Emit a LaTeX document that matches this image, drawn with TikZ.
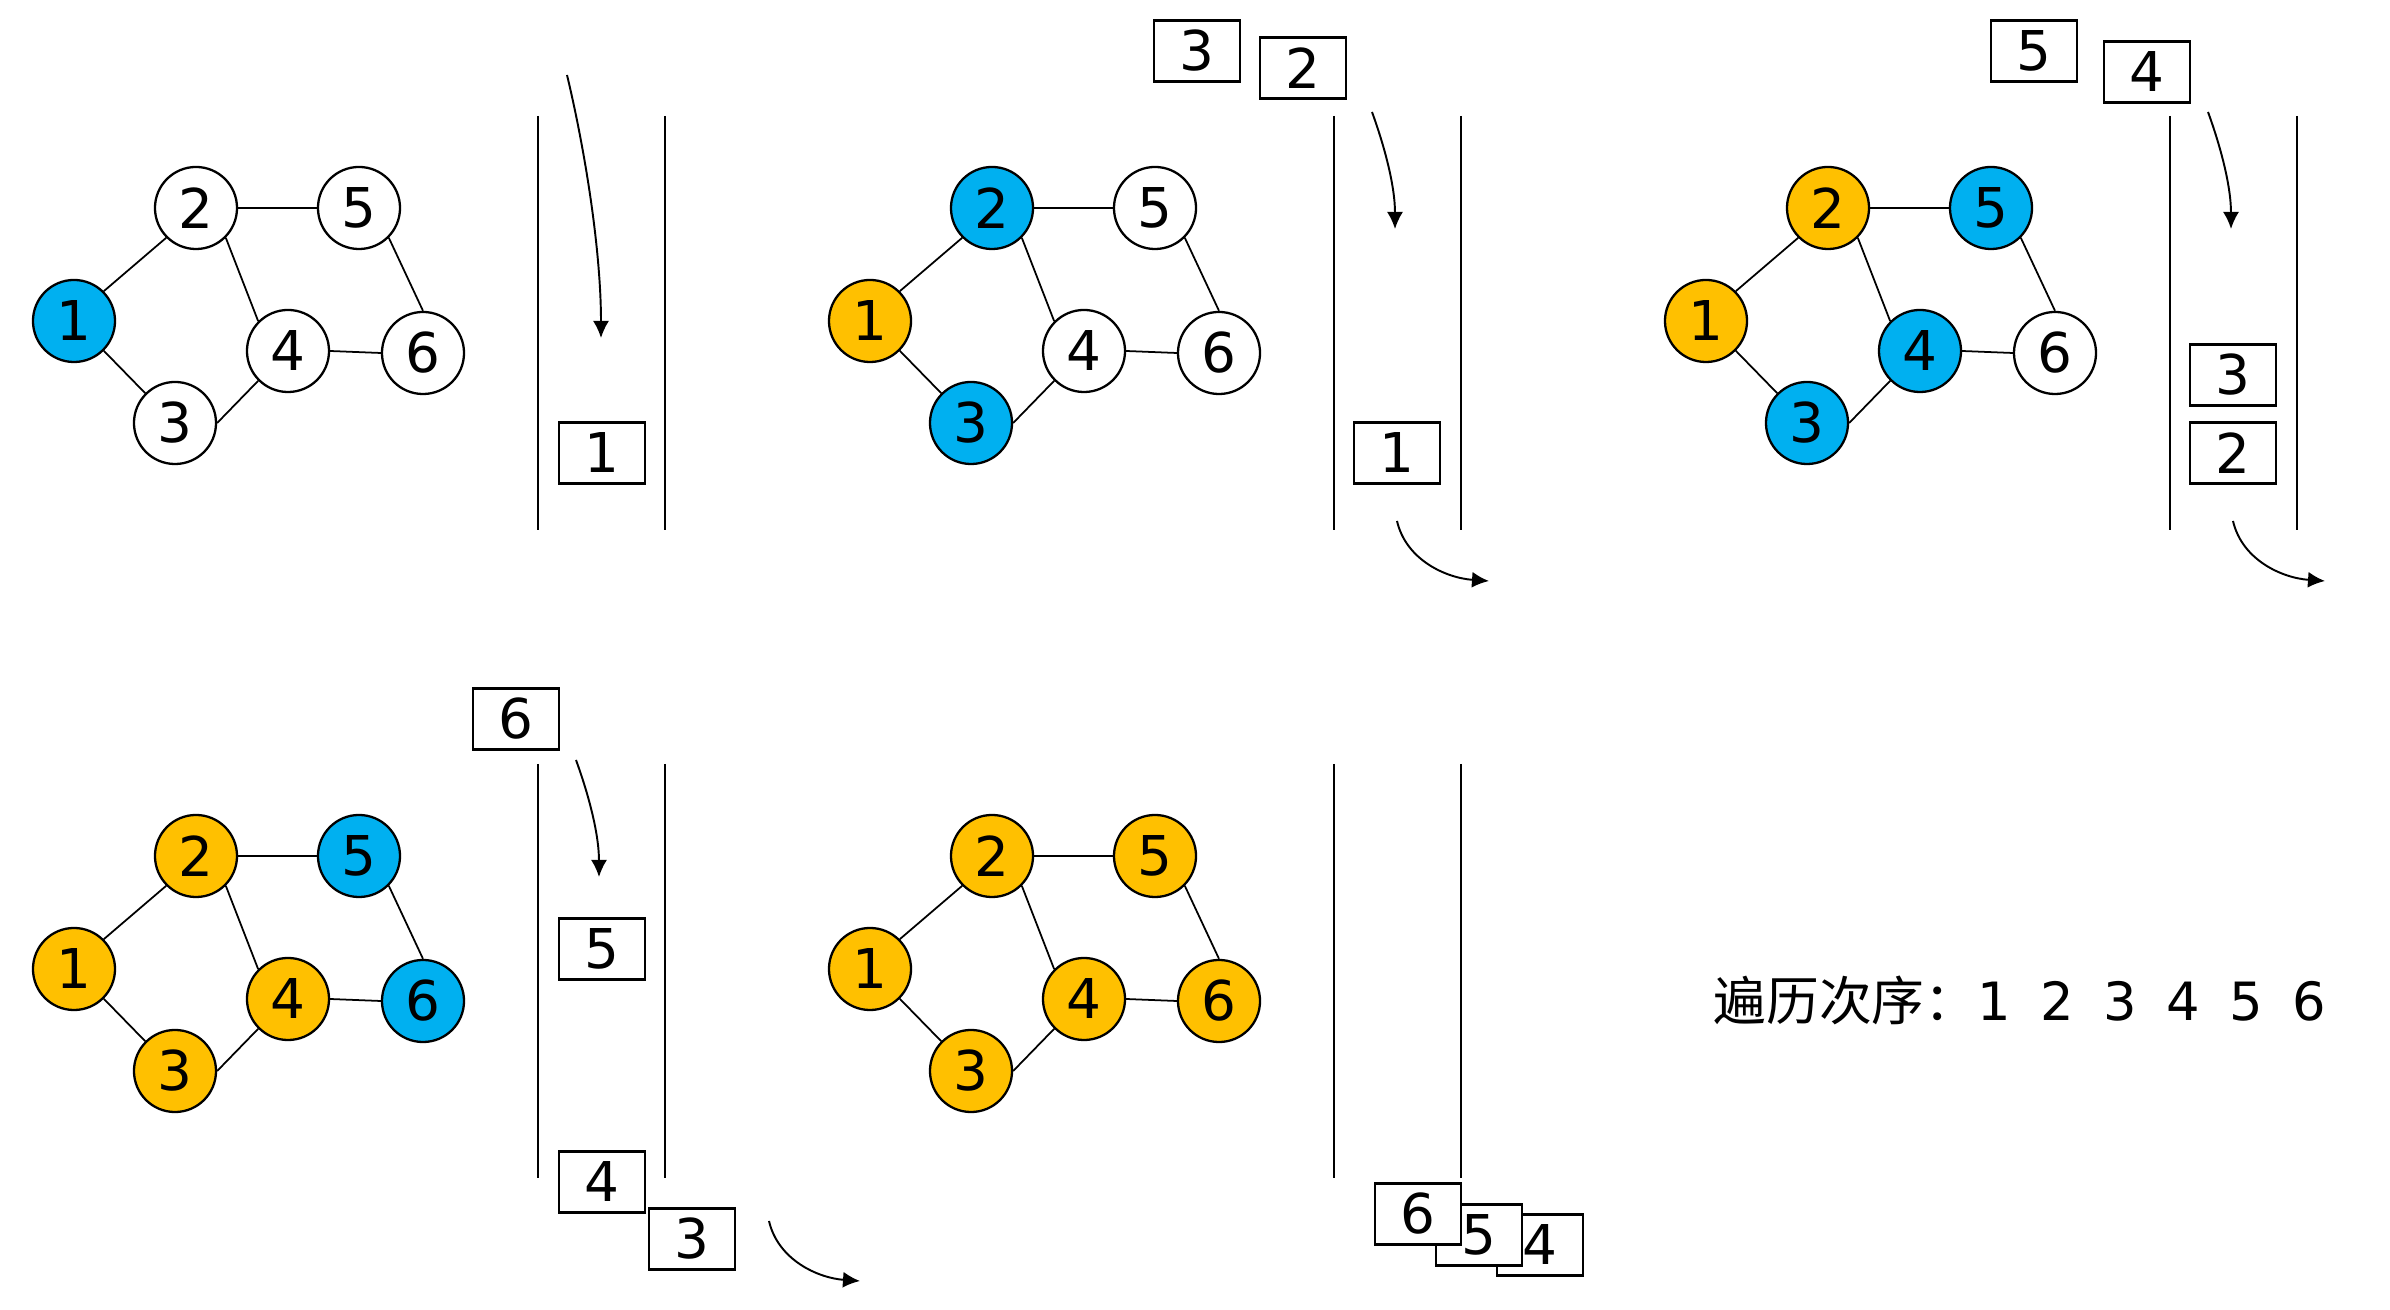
\documentclass[tikz,border=0pt]{standalone}
\usepackage{fontspec}
\setmainfont{DejaVu Sans}
\newfontfamily\cjk{Noto Sans CJK SC}
\usetikzlibrary{arrows.meta}

\definecolor{visit}{RGB}{0,176,240}
\definecolor{done}{RGB}{255,192,0}

% graph: prefix, then fill of vertices 1..6
\newcommand{\bfsgraph}[7]{
	\node[vertex, fill=#2] (#1-1) at (74,321) {1};
	\node[vertex, fill=#3] (#1-2) at (196,208) {2};
	\node[vertex, fill=#4] (#1-3) at (175,423) {3};
	\node[vertex, fill=#5] (#1-4) at (288,351) {4};
	\node[vertex, fill=#6] (#1-5) at (359,208) {5};
	\node[vertex, fill=#7] (#1-6) at (423,353) {6};
	\draw[edge] (#1-1.north east) -- (#1-2.south west)
		(#1-1.south east) -- (#1-3.north west)
		(#1-2.east) -- (#1-5.west)
		(#1-2.south east) -- (#1-4.north west)
		(#1-3.east) -- (#1-4.south west)
		(#1-4.east) -- (#1-6.west)
		(#1-5.south east) -- (#1-6.north);
}
\newcommand{\queuewalls}{
	\draw[wall] (538,116) -- (538,530) (665,116) -- (665,530);
}

\begin{document}
\begin{tikzpicture}[
		x=0.01cm, y=-0.01cm,
		vertex/.style={circle, draw, line width=0.65pt, minimum size=0.82cm, inner sep=0pt,
				font=\fontsize{15.6}{16}\selectfont},
		slot/.style={draw, fill=white, line width=0.65pt, minimum width=0.86cm,
				minimum height=0.61cm, inner sep=0pt, font=\fontsize{15.6}{16}\selectfont},
		edge/.style={line width=0.5pt},
		wall/.style={line width=0.8pt},
		flow/.style={line width=0.55pt, -{Latex[length=1.7mm, width=1.6mm]}}
	]
	\useasboundingbox (0,0) rectangle (2390,1310);

	% step 1
	\begin{scope}
		\bfsgraph{a}{visit}{white}{white}{white}{white}{white}
		\queuewalls
		\coordinate (a-in1) at (567,75);
		\coordinate (a-in2) at (601,338);
		\draw[flow] (a-in1) .. controls (585,150) and (601,250) .. (a-in2);
		\node[slot] (a-q1) at (602,453) {1};
	\end{scope}

	% step 2
	\begin{scope}[shift={(796,0)}]
		\bfsgraph{b}{done}{visit}{visit}{white}{white}{white}
		\queuewalls
		\node[slot] (b-q3) at (401,51) {3};
		\node[slot] (b-q2) at (507,68) {2};
		\coordinate (b-in1) at (576,112);
		\coordinate (b-in2) at (599,229);
		\draw[flow] (b-in1) .. controls (588,145) and (599,185) .. (b-in2);
		\node[slot] (b-q1) at (601,453) {1};
		\coordinate (b-out1) at (601,521);
		\coordinate (b-out2) at (693,581);
		\draw[flow] (b-out1) .. controls (610,560) and (650,578) .. (b-out2);
	\end{scope}

	% step 3
	\begin{scope}[shift={(1632,0)}]
		\bfsgraph{c}{done}{done}{visit}{visit}{visit}{white}
		\queuewalls
		\node[slot] (c-q5) at (402,51) {5};
		\node[slot] (c-q4) at (515,72) {4};
		\coordinate (c-in1) at (576,112);
		\coordinate (c-in2) at (599,229);
		\draw[flow] (c-in1) .. controls (588,145) and (599,185) .. (c-in2);
		\node[slot] (c-q3) at (601,375) {3};
		\node[slot] (c-q2) at (601,453) {2};
		\coordinate (c-out1) at (601,521);
		\coordinate (c-out2) at (693,581);
		\draw[flow] (c-out1) .. controls (610,560) and (650,578) .. (c-out2);
	\end{scope}

	% step 4
	\begin{scope}[shift={(0,648)}]
		\bfsgraph{d}{done}{done}{done}{done}{visit}{visit}
		\queuewalls
		\node[slot] (d-q6) at (516,71) {6};
		\coordinate (d-in1) at (576,112);
		\coordinate (d-in2) at (599,229);
		\draw[flow] (d-in1) .. controls (588,145) and (599,185) .. (d-in2);
		\node[slot] (d-q5) at (602,301) {5};
		\node[slot] (d-q4) at (602,534) {4};
		\node[slot] (d-q3) at (692,591) {3};
		\coordinate (d-out1) at (769,573);
		\coordinate (d-out2) at (860,633);
		\draw[flow] (d-out1) .. controls (778,612) and (818,630) .. (d-out2);
	\end{scope}

	% step 5
	\begin{scope}[shift={(796,648)}]
		\bfsgraph{e}{done}{done}{done}{done}{done}{done}
		\queuewalls
		\node[slot] (e-q4) at (744,597) {4};
		\node[slot] (e-q5) at (683,587) {5};
		\node[slot] (e-q6) at (622,566) {6};
	\end{scope}

	\node[anchor=base west, inner sep=0pt] (order) at (1713,1021)
		{\fontsize{15}{18}\selectfont{\cjk 遍历次序：}%
			1\hspace{8.4pt}2\hspace{8.4pt}3\hspace{8.4pt}4\hspace{8.4pt}5\hspace{8.4pt}6};
\end{tikzpicture}
\end{document}
